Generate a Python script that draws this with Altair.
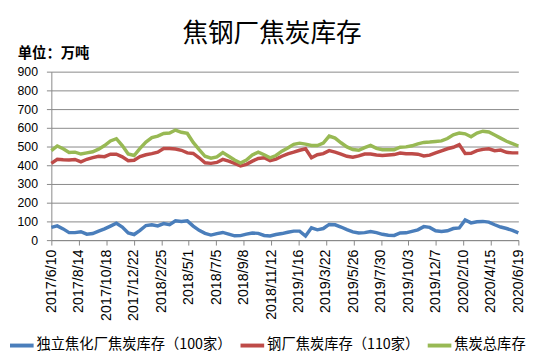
import altair as alt
import pandas as pd

title_text = "焦钢厂焦炭库存"
unit_text = "单位：万吨"

x_start = "2017-06-10"
x_end = "2020-06-19"
n_points = 80

tick_dates = ["2017-06-10", "2017-08-14", "2017-10-18", "2017-12-22", "2018-02-25",
              "2018-05-01", "2018-07-05", "2018-09-08", "2018-11-12", "2019-01-16",
              "2019-03-22", "2019-05-26", "2019-07-30", "2019-10-03", "2019-12-07",
              "2020-02-10", "2020-04-15", "2020-06-19"]
y_ticks = [0, 100, 200, 300, 400, 500, 600, 700, 800, 900]

series_names = ["独立焦化厂焦炭库存（100家）", "钢厂焦炭库存（110家）", "焦炭总库存"]
series_colors = ["#4A7EBB", "#BE4B48", "#98B954"]

independent = [68, 76, 60, 40, 40, 45, 32, 35, 48, 60,
               75, 90, 70, 38, 30, 52, 78, 82, 76, 88,
               82, 103, 100, 103, 75, 52, 36, 27, 35, 41,
               32, 23, 24, 32, 38, 36, 25, 22, 30, 35,
               42, 48, 48, 22, 66, 55, 62, 84, 82, 70,
               56, 44, 38, 40, 46, 40, 31, 26, 25, 38,
               39, 47, 55, 72, 68, 50, 46, 50, 62, 65,
               108, 92, 98, 100, 96, 82, 70, 62, 52, 39]

steel = [410, 432, 429, 428, 431, 418, 432, 441, 448, 446,
         459, 459, 445, 424, 427, 446, 456, 462, 470, 489,
         489, 487, 480, 466, 463, 440, 413, 410, 415, 431,
         422, 410, 396, 405, 422, 436, 440, 424, 433, 448,
         461, 470, 480, 488, 440, 456, 462, 478, 470, 460,
         448, 443, 450, 460, 460, 455, 452, 455, 457, 465,
         461, 461, 459, 450, 454, 466, 477, 488, 496, 510,
         463, 464, 478, 485, 488, 478, 481, 469, 466, 466]

total = [478, 503, 488, 468, 470, 460, 466, 472, 486, 505,
         530, 542, 505, 460, 452, 490, 524, 548, 556, 570,
         572, 588, 576, 570, 522, 484, 448, 438, 445, 468,
         448, 428, 412, 428, 455, 470, 456, 440, 452, 475,
         492, 512, 518, 513, 506, 505, 518, 556, 545, 520,
         498, 484, 480, 494, 506, 490, 483, 483, 483, 496,
         498, 504, 514, 522, 524, 527, 530, 543, 563, 572,
         568, 552, 572, 582, 578, 562, 545, 528, 516, 503]

dates = pd.date_range(x_start, x_end, periods=n_points).strftime("%Y-%m-%dT%H:%M:%SZ").tolist()

rows = []
for name, vals in zip(series_names, [independent, steel, total]):
    for d, v in zip(dates, vals):
        rows.append({"date": d, "series": name, "value": v})
df = pd.DataFrame(rows)

def ms(s):
    return int(pd.Timestamp(s, tz="UTC").value // 10**6)

tick_ms = [ms(d) for d in tick_dates]
dom = [ms(x_start), ms(x_end)]

axis_gray = "#888888"

lines = alt.Chart(df).mark_line(strokeWidth=3.5).encode(
    x=alt.X("date:T",
            scale=alt.Scale(type="utc", domain=dom),
            axis=alt.Axis(values=tick_ms,
                          labelExpr="utcFormat(datum.value, '%Y/%-m/%-d')",
                          labelAngle=270, labelFont="Liberation Sans", labelFontSize=14.5,
                          labelColor="#000000", labelOverlap=False, labelPadding=4,
                          tickSize=5, tickColor=axis_gray, domainColor=axis_gray,
                          grid=False, title=None)),
    y=alt.Y("value:Q",
            scale=alt.Scale(domain=[0, 900], nice=False),
            axis=alt.Axis(values=y_ticks, labelFont="Liberation Sans", labelFontSize=12.5,
                          labelColor="#000000", labelPadding=9, tickSize=5,
                          tickColor=axis_gray, domainColor=axis_gray,
                          grid=True, gridColor=axis_gray, gridWidth=1, title=None)),
    color=alt.Color("series:N",
                    scale=alt.Scale(domain=series_names, range=series_colors),
                    legend=alt.Legend(orient="none", legendX=-44, legendY=264,
                                      direction="horizontal", symbolType="stroke",
                                      symbolStrokeWidth=4, symbolSize=576,
                                      labelFont="Noto Sans CJK SC", labelFontSize=14.5,
                                      labelColor="#000000", labelOffset=1,
                                      columnPadding=0, labelLimit=0, title=None)),
    order=alt.Order("date:T"),
)

title_mark = alt.Chart(pd.DataFrame({"t": [title_text]})).mark_text(
    font="Noto Sans CJK SC", fontSize=26, align="center", baseline="middle", color="#000000"
).encode(x=alt.value(224), y=alt.value(-38), text="t:N")

unit_mark = alt.Chart(pd.DataFrame({"t": [unit_text]})).mark_text(
    font="Noto Sans CJK SC", fontSize=14.5, fontWeight="bold", align="left",
    baseline="middle", color="#000000"
).encode(x=alt.value(-34), y=alt.value(-18), text="t:N")

chart = alt.layer(lines, title_mark, unit_mark).properties(
    width=474, height=171,
    autosize=alt.AutoSizeParams(type="none"),
    padding={"left": 44, "top": 62, "right": 24, "bottom": 115},
).configure_view(strokeWidth=0)

chart.save("out.html", embed_options={"renderer": "svg", "actions": False})
